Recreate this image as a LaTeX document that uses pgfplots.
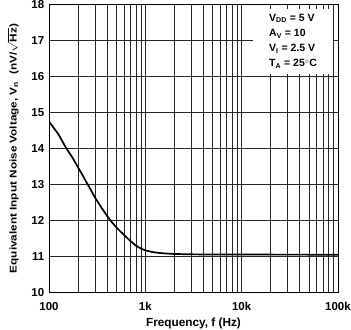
\documentclass[border=0pt]{standalone}
\usepackage{pgfplots}
\pgfplotsset{compat=1.18}
\usepackage{fontspec}
\setmainfont{Liberation Sans}
\begin{document}
\begin{tikzpicture}
\begin{axis}[
  scale only axis,
  width=289pt, height=288pt,
  xmode=log,
  xmin=100, xmax=100000,
  ymin=10, ymax=18,
  ytick={10,11,...,18},
  xtick={100,1000,10000,100000},
  xticklabels={100,1k,10k,100k},
  minor xtick={200,300,400,500,600,700,800,900,2000,3000,4000,5000,6000,7000,8000,9000,20000,30000,40000,50000,60000,70000,80000,90000},
  grid=both,
  major grid style={black!85, line width=0.5pt},
  minor grid style={black!85, line width=0.5pt},
  major tick length=0pt, minor tick length=0pt,
  axis line style={black, line width=0.9pt},
  /pgf/number format/assume math mode=true,
  ticklabel style={font=\fontsize{11.5}{13}\selectfont\bfseries},
  xticklabel style={anchor=base, yshift=-18pt},
  yticklabel style={xshift=-1.2pt},
  log ticks with fixed point,
  xlabel={\bfseries Frequency, f (Hz)},
  ylabel={\scalebox{1.2}[1]{\bfseries Equivalent Input Noise Voltage, V$_{\mbox{\scriptsize\bfseries n}}$\,\, (nV/$\sqrt{\mbox{\bfseries Hz}}$)}},
  xlabel style={font=\fontsize{11.8}{13}\selectfont, at={(axis description cs:0.5,0)}, anchor=base, yshift=-34.5pt},
  ylabel style={font=\fontsize{9.8}{11}\selectfont, at={(axis description cs:0,0.5)}, anchor=base, inner sep=1pt, yshift=32.5pt},
  clip=true,
]
\addplot[black, line width=1.7pt, line join=round] coordinates {
(100,14.75) (110,14.60) (125,14.40) (150,14.02) (175,13.75) (200,13.48)
(250,13.02) (300,12.64) (350,12.36) (400,12.13) (450,11.95) (500,11.81)
(600,11.60) (700,11.43) (800,11.30) (900,11.22) (1000,11.17) (1200,11.12)
(1500,11.09) (2000,11.07) (3000,11.06) (5000,11.055) (100000,11.05)
};
\node[fill=white, anchor=north west, inner xsep=16pt, inner ysep=0pt, align=left,
  font=\fontsize{10.5}{15.3}\selectfont\bfseries,
  minimum height=65pt]
  at (rel axis cs:0.706,0.986)
  {V$_{\mbox{\scriptsize\bfseries DD}}$ = 5 V\\
   A$_{\mbox{\scriptsize\bfseries V}}$ = 10\\
   V$_{\mbox{\scriptsize\bfseries I}}$ = 2.5 V\\
   T$_{\mbox{\scriptsize\bfseries A}}$ = 25$^\circ$C};
\coordinate (BL) at (rel axis cs:0,0);
\coordinate (TR) at (rel axis cs:1,1);
\end{axis}
\pgfresetboundingbox
\path[use as bounding box] ([xshift=-49pt,yshift=-37.5pt]BL) rectangle ([xshift=13pt,yshift=4.5pt]TR);
\end{tikzpicture}
\end{document}
